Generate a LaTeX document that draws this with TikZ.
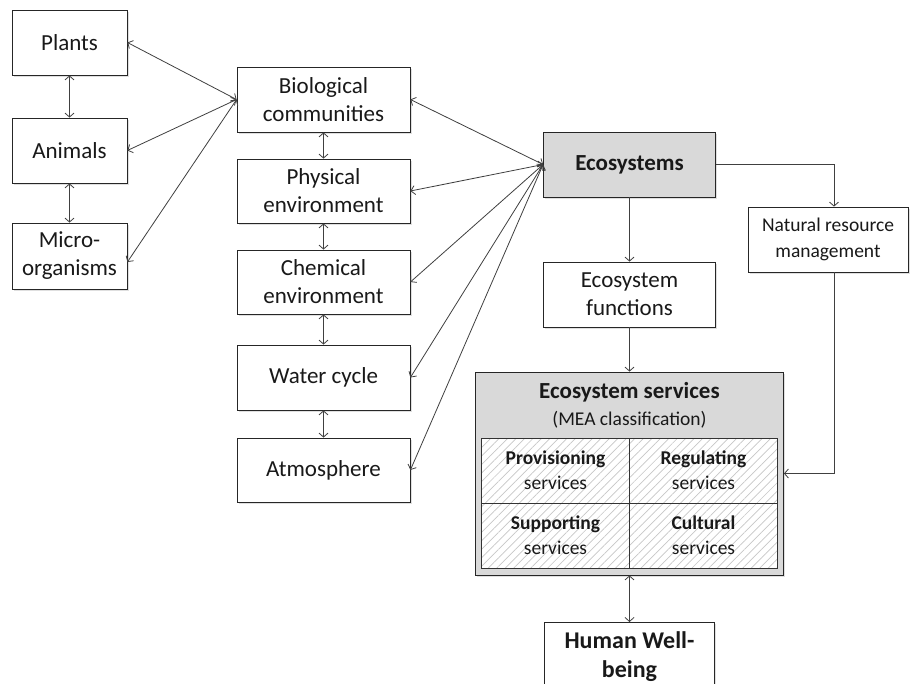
\documentclass[tikz,border=0pt]{standalone}
\usepackage{fontspec}
\setmainfont{Carlito}
\usetikzlibrary{arrows.meta,patterns.meta,shadows}
\begin{document}
\begin{tikzpicture}[x=1pt,y=-1pt,
  box/.style={draw=black!85, line width=0.8pt, fill=white, align=center, inner sep=2pt,
    font=\fontsize{23}{28}\selectfont, text=black!90,
    drop shadow={shadow xshift=1.5pt, shadow yshift=-1.5pt, opacity=0.25}},
  gbox/.style={box, fill=black!15},
  small/.style={font=\fontsize{19.5}{26}\selectfont},
  conn/.style={draw=black!75, line width=0.8pt, {Straight Barb[length=4pt,width=9pt]}-{Straight Barb[length=4pt,width=9pt]}},
  oneway/.style={draw=black!75, line width=0.8pt, -{Straight Barb[length=4pt,width=9pt]}},
  cell/.style={draw=black!80, line width=0.8pt, preaction={fill=white}, pattern={Lines[angle=45,distance=6pt,line width=0.7pt]}, pattern color=black!22, minimum width=148pt, minimum height=65pt, align=center, font=\fontsize{19.5}{25}\selectfont, text=black!90, inner sep=0pt}
]
\clip (0,0) rectangle (910,683);
\fill[white] (0,0) rectangle (910,683);

% left column
\node[box, minimum width=115pt, minimum height=65pt] (plants) at (69.5,42.5) {Plants};
\node[box, minimum width=115pt, minimum height=65pt] (animals) at (69.5,150.5) {Animals};
\node[box, minimum width=115pt, minimum height=66pt] (micro) at (69.5,256) {Micro-\\organisms};

% middle column
\node[box, minimum width=173pt, minimum height=65pt] (bio) at (323.5,99.5) {Biological\\communities};
\node[box, minimum width=173pt, minimum height=64pt] (phys) at (323.5,191) {Physical\\environment};
\node[box, minimum width=173pt, minimum height=64pt] (chem) at (323.5,282) {Chemical\\environment};
\node[box, minimum width=173pt, minimum height=65pt] (water) at (323.5,377.5) {Water cycle};
\node[box, minimum width=173pt, minimum height=64pt] (atmo) at (323.5,470) {Atmosphere};

% right part
\node[gbox, minimum width=172pt, minimum height=65pt, font=\fontsize{23}{28}\selectfont\bfseries] (eco) at (629.5,164.5) {Ecosystems};
\node[box, minimum width=172pt, minimum height=65pt] (fun) at (629.5,294.5) {Ecosystem\\functions};
\node[box, small, minimum width=160pt, minimum height=65pt] (nrm) at (828,239.5) {Natural resource\\management};

% services box
\node[gbox, minimum width=308pt, minimum height=203pt] (serv) at (629.5,473.5) {};
\node[anchor=base, text=black!90, inner sep=0pt, font=\fontsize{23}{28}\selectfont\bfseries] (servtitle) at (629.5,398) {Ecosystem services};
\node[anchor=base, text=black!90, inner sep=0pt, font=\fontsize{19.5}{24}\selectfont] (servsub) at (629.5,425) {(MEA classification)};
\node[cell] (prov) at (555.5,470.5) {\textbf{Provisioning}\\services};
\node[cell] (reg) at (703.5,470.5) {\textbf{Regulating}\\services};
\node[cell] (sup) at (555.5,535.5) {\textbf{Supporting}\\services};
\node[cell] (cult) at (703.5,535.5) {\textbf{Cultural}\\services};

\node[box, anchor=north, minimum width=170pt, minimum height=68pt, font=\fontsize{24}{29}\selectfont\bfseries] (human) at (629.5,622) {Human Well-\\being};

% connectors left
\draw[conn] (plants.south) -- (animals.north);
\draw[conn] (animals.south) -- (micro.north);
\draw[conn] (plants.east) -- (bio.west);
\draw[conn] (animals.east) -- (bio.west);
\draw[conn] ([yshift=-6pt]micro.east) -- (bio.west);

% middle vertical
\draw[conn] (bio.south) -- (phys.north);
\draw[conn] (phys.south) -- (chem.north);
\draw[conn] (chem.south) -- (water.north);
\draw[conn] (water.south) -- (atmo.north);

% to ecosystems
\draw[conn] (bio.east) -- (eco.west);
\draw[conn] (phys.east) -- (eco.west);
\draw[conn] (chem.east) -- (eco.west);
\draw[conn] (water.east) -- (eco.west);
\draw[conn] (atmo.east) -- (eco.west);

% right flow
\draw[oneway] (eco.south) -- (fun.north);
\draw[oneway] (fun.south) -- (serv.north);
\draw[oneway] (eco.east) -| ([xshift=6pt]nrm.north);
\draw[oneway] ([xshift=6pt]nrm.south) |- (serv.east);
\draw[conn] (serv.south) -- (human.north);
\end{tikzpicture}
\end{document}
